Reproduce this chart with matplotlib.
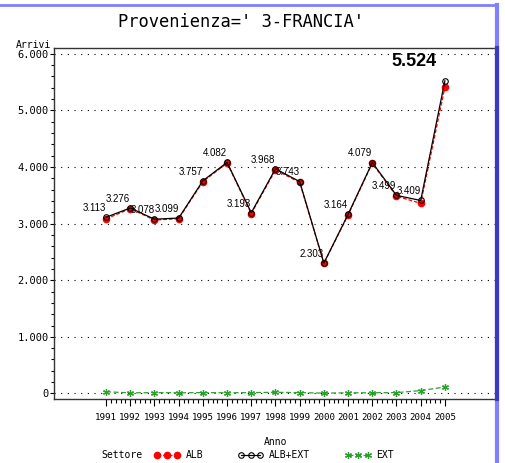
import numpy as np
import matplotlib
matplotlib.use('Agg')
import matplotlib.pyplot as plt
from matplotlib.lines import Line2D
from matplotlib.ticker import MultipleLocator, FuncFormatter

anni = list(range(1991, 2006))
tot = [3113, 3276, 3078, 3099, 3757, 4082, 3193, 3968, 3743, 2303, 3164, 4079, 3499, 3409, 5524]
ext = [30, 10, 15, 12, 15, 12, 15, 20, 15, 5, 12, 12, 15, 50, 115]
alb = [t - e for t, e in zip(tot, ext)]
etichette = ['3.113', '3.276', '3.078', '3.099', '3.757', '4.082', '3.193', '3.968',
             '3.743', '2.303', '3.164', '4.079', '3.499', '3.409']
tick_y = [0, 1000, 2000, 3000, 4000, 5000, 6000]

mono = 'DejaVu Sans Mono'

fig = plt.figure(figsize=(5.05, 4.63), dpi=100)
ax = fig.add_axes([0.107, 0.138, 0.877, 0.758])

ax.plot(anni, ext, color='#2ca02c', ls=(0, (4, 2)), lw=0.9, marker=(6, 2, 0),
        ms=5, mew=0.9, label='EXT', zorder=3)
ax.plot(anni, alb, color='red', ls=(0, (3, 1.5)), lw=0.9, marker='o', ms=4.5,
        mfc='red', mec='red', label='ALB', zorder=3)
ax.plot(anni, tot, color='black', lw=0.9, marker='o', ms=4, mfc='none',
        mec='black', mew=0.8, label='ALB+EXT', zorder=4)

for x, y, s in zip(anni, tot, etichette):
    ax.annotate(s, (x, y), xytext=(0, 3), textcoords='offset points',
                ha='right', va='bottom', fontsize=7, family='Liberation Sans',
                zorder=5)
ax.annotate('5.524', (anni[-1], tot[-1]), xytext=(-22, 8), textcoords='offset points',
            ha='center', va='bottom', fontsize=13, fontweight='bold',
            family='Liberation Sans')

ax.set_xlim(1988.85, 2007.15)
ax.set_ylim(-100, 6100)
ax.set_xticks(anni)
ax.set_xticklabels([str(a) for a in anni], family=mono, fontsize=6.6)
ax.set_yticks(tick_y)
ax.yaxis.set_major_formatter(FuncFormatter(lambda v, p: f'{int(v):,}'.replace(',', '.')))
for lab in ax.get_yticklabels():
    lab.set_family(mono)
    lab.set_fontsize(7.5)
ax.yaxis.set_minor_locator(MultipleLocator(200))
ax.set_xticks(np.arange(1991, 2005.01, 0.2), minor=True)
ax.tick_params(axis='x', which='major', length=5, width=0.8, pad=5)
ax.tick_params(axis='x', which='minor', length=3, width=0.8)
ax.tick_params(axis='y', which='major', length=3, width=0.8, pad=1)
ax.tick_params(axis='y', which='minor', length=2, width=0.8)
ax.grid(True, axis='y', ls=(0, (1, 5)), color='black', lw=0.8)
for s in ax.spines.values():
    s.set_color('#333333')
    s.set_linewidth(1)

ax.set_xlabel('Anno', family=mono, fontsize=7, labelpad=11)
fig.text(0.101, 0.893, 'Arrivi', family=mono, fontsize=7, ha='right', va='bottom')
fig.text(0.477, 0.952, "Provenienza=' 3-FRANCIA'", family=mono, fontsize=12.3,
         ha='center', va='center')

handles, labels = ax.get_legend_handles_labels()
order = [1, 2, 0]
fig.legend([handles[i] for i in order], [labels[i] for i in order],
           loc='center left', bbox_to_anchor=(0.298, 0.017), ncol=3, frameon=False,
           prop={'family': mono, 'size': 7}, handlelength=2.6, handletextpad=0.6,
           columnspacing=3.6, borderaxespad=0, numpoints=3)
fig.text(0.2, 0.017, 'Settore', family=mono, fontsize=7, ha='left', va='center')

# cornice blu
fig.add_artist(Line2D([0, 0.984], [0.989, 0.989], color='#8080ff', lw=2,
                      transform=fig.transFigure))
fig.add_artist(Line2D([0.984, 0.984], [0, 0.989], color='#8080ff', lw=3,
                      transform=fig.transFigure))
fig.add_artist(Line2D([0.984, 0.984], [0.138, 0.896], color='#3a3ac8', lw=3,
                      transform=fig.transFigure))

fig.savefig('out.png', dpi=100)
